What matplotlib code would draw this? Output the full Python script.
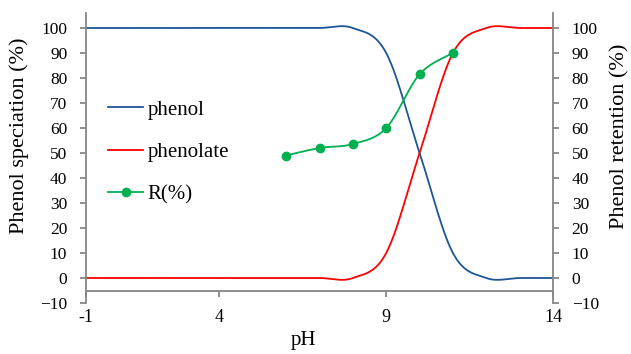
import numpy as np
import matplotlib.pyplot as plt

plt.rcParams['font.family'] = ['Liberation Serif', 'DejaVu Serif']

# speciation curve points (pH, %)
ph = [0, 1, 2, 3, 4, 5, 6, 7, 8, 9, 10, 11, 12, 13, 14]
phenol = [100, 100, 100, 100, 100, 100, 100, 100, 100, 90, 50, 10, 0, 0, 0]
phenolate = [0, 0, 0, 0, 0, 0, 0, 0, 0, 10, 50, 90, 100, 100, 100]

# measured retention
ph_r = [6, 7, 8, 9, 10, 11]
retention = [49, 52, 53.6, 60, 81.5, 90]

x_ticks = [0, 4, 9, 14]
x_ticklabels = ['-1', '4', '9', '14']
y_ticks = list(range(-10, 101, 10))

blue = '#1F5597'
red = '#FF0000'
green = '#00B050'
axis_grey = '#868686'


def smooth(x, y, n=40):
    # Excel-like smoothed line: Catmull-Rom segments through the points
    p = np.column_stack([x, y]).astype(float)
    ext = np.vstack([p[0], p, p[-1]])
    t = np.linspace(0, 1, n)[:, None]
    h00 = 2 * t**3 - 3 * t**2 + 1
    h10 = t**3 - 2 * t**2 + t
    h01 = -2 * t**3 + 3 * t**2
    h11 = t**3 - t**2
    parts = []
    for i in range(len(p) - 1):
        p0, p1, p2, p3 = ext[i], ext[i + 1], ext[i + 2], ext[i + 3]
        m1 = (p2 - p0) / 2
        m2 = (p3 - p1) / 2
        seg = h00 * p1 + h10 * m1 + h01 * p2 + h11 * m2
        parts.append(seg if i == 0 else seg[1:])
    s = np.vstack(parts)
    return s[:, 0], s[:, 1]


fig = plt.figure(figsize=(6.31, 3.54), dpi=100)
ax = fig.add_axes([86 / 631, 51 / 354, 467 / 631, 290 / 354])
ax2 = ax.twinx()

sx, sy = smooth(ph, phenol)
l1, = ax.plot(sx, sy, color=blue, lw=1.3, label='phenol')
sx, sy = smooth(ph, phenolate)
l2, = ax.plot(sx, sy, color=red, lw=1.3, label='phenolate')

sx, sy = smooth(ph_r, retention)
ax2.plot(sx, sy, color=green, lw=1.3)
ax2.plot(ph_r, retention, 'o', color=green, ms=6, mec=green)
l3, = ax2.plot([], [], '-o', color=green, lw=1.3, ms=6, label='R(%)')

for a in (ax, ax2):
    a.set_xlim(0, 14)
    a.set_ylim(-10, 106)
    a.set_yticks(y_ticks)
    for side in a.spines:
        a.spines[side].set_visible(False)

ax.spines['left'].set_visible(True)
ax.spines['bottom'].set_visible(True)
ax.spines['bottom'].set_position(('data', -5))
ax2.spines['right'].set_visible(True)
for sp in (ax.spines['left'], ax.spines['bottom'], ax2.spines['right']):
    sp.set_color(axis_grey)
    sp.set_linewidth(1.3)

ax.set_xticks(x_ticks)
ax.set_xticklabels(x_ticklabels)
ax.tick_params(axis='x', direction='out', length=4, width=1.3, color=axis_grey,
               labelsize=13, pad=9)
ax.tick_params(axis='y', direction='out', length=4.5, width=1.3, color=axis_grey,
               labelsize=12.5, pad=9)
ax2.tick_params(axis='y', direction='out', length=4.5, width=1.3, color=axis_grey,
                labelsize=12.5, pad=9)

fig.text(19 / 631, 1 - 136 / 354, 'Phenol speciation (%)', rotation=90,
         ha='center', va='center', fontsize=16)
fig.text(620 / 631, 1 - 136 / 354, 'Phenol retention (%)', rotation=90,
         ha='center', va='center', fontsize=16)
fig.text(303 / 631, 1 - 341 / 354, 'pH', ha='center', va='center', fontsize=15)

ax2.legend([l1, l2, l3], ['phenol', 'phenolate', 'R(%)'], loc='upper left',
           bbox_to_anchor=(108 / 631, 1 - 100 / 354), bbox_transform=fig.transFigure,
           frameon=False, fontsize=15, handlelength=1.7, handletextpad=0.2,
           labelspacing=1.1, borderpad=0, borderaxespad=0)

fig.savefig('out.png', dpi=100)
